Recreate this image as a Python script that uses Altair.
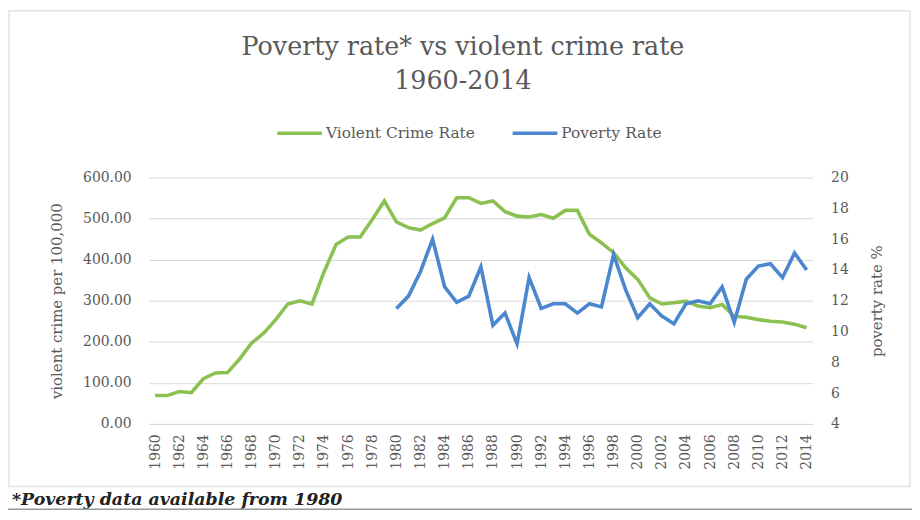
import altair as alt
import pandas as pd

years = list(range(1960, 2015))
crime = [69, 69, 79, 76, 110, 124, 125, 158, 197, 221,
         254, 292, 300, 292, 370, 437, 455, 455, 498, 543,
         492, 478, 472, 488, 502, 551, 551, 537, 543, 517,
         506, 504, 510, 501, 520, 520, 462, 441, 417, 380,
         352, 307, 292, 295, 299, 287, 283, 291, 262, 260,
         254, 250, 248, 243, 234]
pov_years = list(range(1980, 2015))
poverty = [11.5, 12.3, 13.9, 16.0, 12.9, 11.9, 12.3, 14.2, 10.4, 11.2,
           9.2, 13.5, 11.5, 11.8, 11.8, 11.2, 11.8, 11.6, 15.0, 12.7,
           10.9, 11.8, 11.0, 10.5, 11.8, 12.0, 11.8, 12.9, 10.6, 13.4,
           14.25, 14.4, 13.5, 15.1, 14.0]
series_names = ["Violent Crime Rate", "Poverty Rate"]
series_colors = ["#8cc152", "#4a87cf"]
x_tick_years = list(range(1960, 2015, 2))
left_ticks = [0, 100, 200, 300, 400, 500, 600]
right_ticks = [4, 6, 8, 10, 12, 14, 16, 18, 20]

crime_df = pd.DataFrame({"year": years, "value": crime, "series": series_names[0]})
pov_df = pd.DataFrame({"year": pov_years, "value": poverty, "series": series_names[1]})

SERIF = "DejaVu Serif"
GRAY = "#595959"

color = alt.Color(
    "series:N",
    scale=alt.Scale(domain=series_names, range=series_colors),
    legend=alt.Legend(
        title=None, orient="none", legendX=127, legendY=-69, direction="horizontal",
        symbolType="stroke", symbolSize=2025, symbolStrokeWidth=3.5,
        labelFont=SERIF, labelFontSize=15.5, labelColor=GRAY, labelOffset=2,
        columnPadding=30, padding=0,
    ),
)

xenc = alt.X(
    "year:Q",
    scale=alt.Scale(domain=[1959.5, 2014.5], nice=False, zero=False),
    axis=alt.Axis(
        values=x_tick_years, format="d", labelAngle=270, labelAlign="right",
        labelBaseline="middle", labelPadding=10, grid=False, ticks=False,
        domainColor="#d9d9d9", labelFont=SERIF, labelFontSize=14, labelColor=GRAY,
        labelOverlap=False, title=None,
    ),
)

crime_line = alt.Chart(crime_df).mark_line(strokeWidth=3.6).encode(
    x=xenc,
    y=alt.Y(
        "value:Q",
        scale=alt.Scale(domain=[0, 600], nice=False),
        axis=alt.Axis(
            values=left_ticks, format=".2f", title="violent crime per 100,000",
            grid=True, gridColor="#d9d9d9", domain=False, ticks=False,
            labelPadding=18, labelFont=SERIF, labelFontSize=14, labelColor=GRAY,
            titleFont=SERIF, titleFontSize=15, titleFontWeight="normal",
            titleColor=GRAY, titlePadding=18,
        ),
    ),
    color=color,
)

pov_line = alt.Chart(pov_df).mark_line(strokeWidth=3.6).encode(
    x=xenc,
    y=alt.Y(
        "value:Q",
        scale=alt.Scale(domain=[4, 20], nice=False, zero=False),
        axis=alt.Axis(
            orient="right", values=right_ticks, format="d", title="poverty rate %",
            grid=False, domain=False, ticks=False, labelPadding=18,
            labelFont=SERIF, labelFontSize=14, labelColor=GRAY,
            titleFont=SERIF, titleFontSize=15, titleFontWeight="normal",
            titleColor=GRAY, titlePadding=36, titleAngle=270,
        ),
    ),
    color=color,
)

one = pd.DataFrame({"a": [0]})
frame = alt.Chart(one).mark_rect(fill=None, stroke="#e4e4e4", strokeWidth=1.5).encode(
    x=alt.value(-141), x2=alt.value(766), y=alt.value(-168), y2=alt.value(311)
)
note = alt.Chart(one).mark_text(
    text="*Poverty data available from 1980", align="left", baseline="alphabetic",
    font=SERIF, fontSize=17.5, fontStyle="italic", fontWeight="bold",
    color="#222222",
).encode(x=alt.value(-138), y=alt.value(330))
note_line = alt.Chart(one).mark_rule(stroke="#999999", strokeWidth=1.5).encode(
    x=alt.value(-150), x2=alt.value(770), y=alt.value(334)
)

chart = alt.layer(frame, note, note_line, crime_line, pov_line).resolve_scale(
    y="independent", color="shared"
).properties(
    width=668, height=248,
    autosize=alt.AutoSizeParams(type="none"),
    padding={"left": 142, "top": 169, "right": 100, "bottom": 87},
    title=alt.Title(
        ["Poverty rate* vs violent crime rate", "1960-2014"],
        font=SERIF, fontSize=25.5, fontWeight="normal", color=GRAY,
        anchor="middle", dx=-18, dy=90, lineHeight=34, offset=5,
    ),
).configure_view(stroke=None)

chart.save("out.html", embed_options={"renderer": "svg", "actions": False})
